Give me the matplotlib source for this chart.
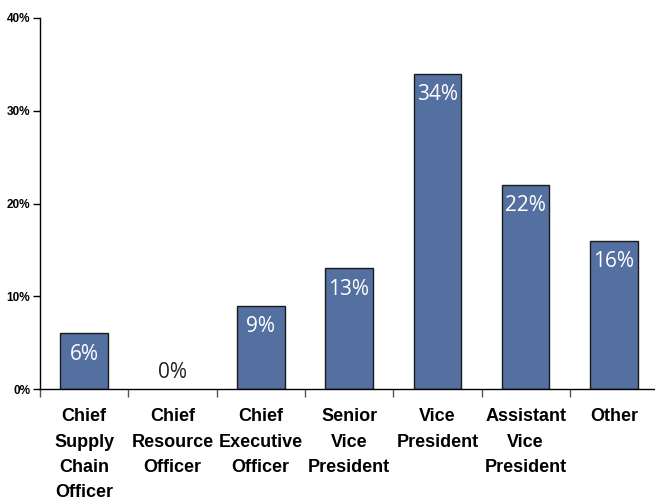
import matplotlib
matplotlib.use("Agg")
import matplotlib.pyplot as plt
from matplotlib import font_manager
from matplotlib.ticker import FixedLocator, NullFormatter

categories = ["Chief\nSupply\nChain\nOfficer", "Chief\nResource\nOfficer", "Chief\nExecutive\nOfficer",
              "Senior\nVice\nPresident", "Vice\nPresident", "Assistant\nVice\nPresident", "Other"]
values = [6, 0, 9, 13, 34, 22, 16]
yticks = [0, 10, 20, 30, 40]
ytick_labels = ["0%", "10%", "20%", "30%", "40%"]

names = {f.name for f in font_manager.fontManager.ttflist}
narrow = "Liberation Sans Narrow" if "Liberation Sans Narrow" in names else "Liberation Sans"

fig = plt.figure(figsize=(6.55, 5.04), dpi=100)
ax = fig.add_axes([40/655, 115/504, 615/655, 371/504])

x = list(range(len(categories)))
ax.bar(x, values, width=0.54, color="#5470A0", edgecolor="#1a1a1a",
       linewidth=[1.0 if v > 0 else 0 for v in values], zorder=2)

ax.set_ylim(0, 40)
ax.set_xlim(-0.5, -0.5 + 615/88.3)
for s in ["top", "right"]:
    ax.spines[s].set_visible(False)
ax.spines["left"].set_linewidth(1.0)
ax.spines["bottom"].set_linewidth(1.0)

ax.set_yticks(yticks)
ax.set_yticklabels(ytick_labels, fontfamily=narrow, fontweight="bold", fontsize=8.5)
ax.tick_params(axis="y", direction="out", length=5, width=1, pad=2)

ax.xaxis.set_major_locator(FixedLocator(x))
ax.set_xticklabels(categories, fontfamily=narrow, fontweight="bold", fontsize=13, linespacing=1.62, va="top")
ax.tick_params(axis="x", which="major", length=0, pad=14)
ax.xaxis.set_minor_locator(FixedLocator([i - 0.5 for i in range(len(categories) + 1)]))
ax.xaxis.set_minor_formatter(NullFormatter())
ax.tick_params(axis="x", which="minor", direction="out", length=6, width=1, color="#555555")

for xi, v in zip(x, values):
    if v > 3:
        ax.annotate(f"{v}%", (xi, v), xytext=(0, -15), textcoords="offset points",
                    ha="center", va="center", color="white", fontsize=15, fontfamily="Open Sans")
    else:
        ax.annotate(f"{v}%", (xi, v), xytext=(0, 12), textcoords="offset points",
                    ha="center", va="center", color="#222222", fontsize=15, fontfamily="Open Sans")

fig.savefig("out.png", dpi=100)
